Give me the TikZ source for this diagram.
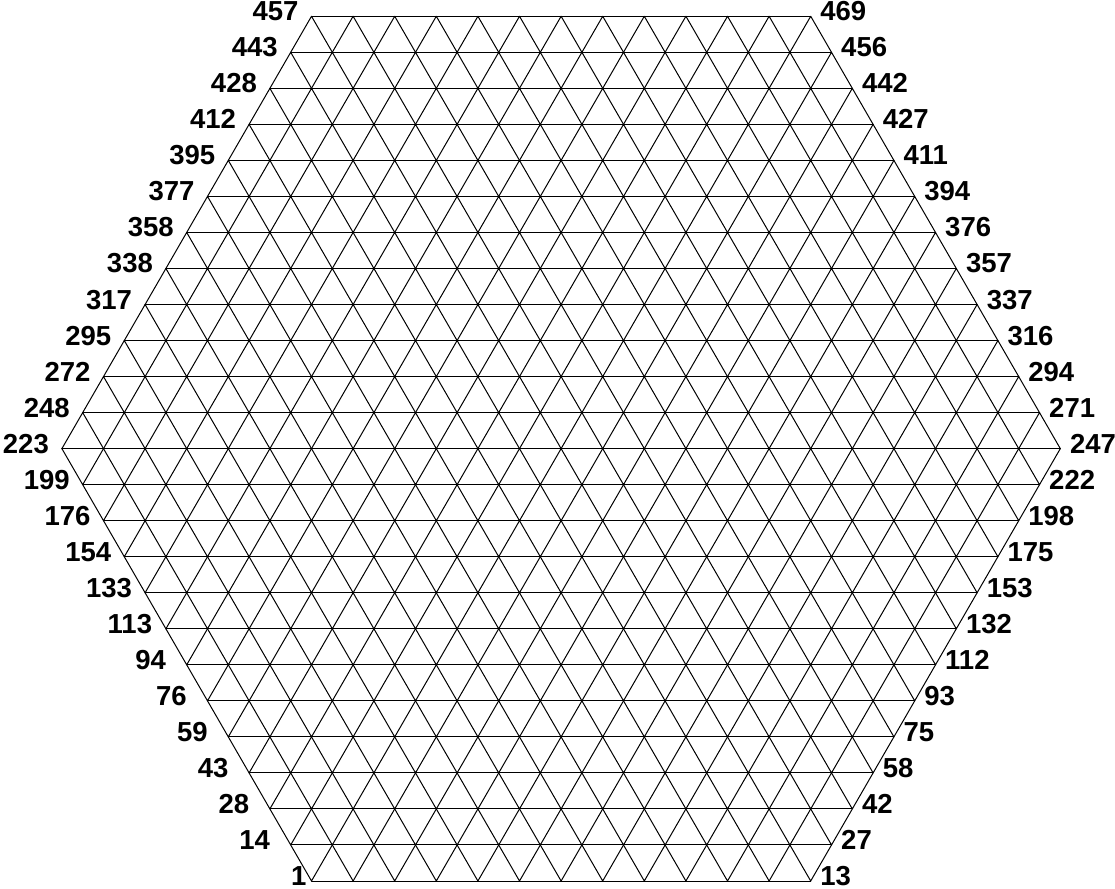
\documentclass[tikz,border=0pt]{standalone}
\usepackage{fontspec}
\setmainfont{Liberation Sans}
\usetikzlibrary{positioning}

\begin{document}
\begin{tikzpicture}[
    x=1pt, y=1pt,
    edge/.style={line width=1pt, line cap=round, line join=round},
    num/.style={font=\fontsize{27.5}{32}\selectfont\bfseries, inner sep=0pt},
    leftnum/.style={num, anchor=base, xshift=-36pt, yshift=-4.5pt},
    cornernum/.style={num, anchor=base east, xshift=-5pt, yshift=-4.5pt},
    rightnum/.style={num, anchor=base west, xshift=9.5pt, yshift=-4.5pt}
]
\useasboundingbox (0,0) rectangle (1115,888);

% grid points, row by row from the bottom
\foreach \r in {0,...,24} {
  \pgfmathtruncatemacro\k{min(\r,24-\r)}
  \pgfmathtruncatemacro\last{12+\k}
  \foreach \c in {0,...,\last}
    \coordinate (v-\r-\c) at ({311.5-20.8*\k+41.6*\c}, {7+36.03*\r});
}

% horizontal lines
\foreach \r in {0,...,24} {
  \pgfmathtruncatemacro\last{12+min(\r,24-\r)}
  \draw[edge] (v-\r-0) -- (v-\r-\last);
}

% slanted lines, lower half
\foreach \r in {0,...,11} {
  \pgfmathtruncatemacro\last{12+\r}
  \pgfmathtruncatemacro\rr{\r+1}
  \foreach \c in {0,...,\last} {
    \pgfmathtruncatemacro\cc{\c+1}
    \draw[edge] (v-\rr-\c) -- (v-\r-\c) -- (v-\rr-\cc);
  }
}

% slanted lines, upper half
\foreach \r in {12,...,23} {
  \pgfmathtruncatemacro\last{36-\r}
  \pgfmathtruncatemacro\rr{\r+1}
  \foreach \c in {1,...,\last} {
    \pgfmathtruncatemacro\cc{\c-1}
    \draw[edge] (v-\r-\c) -- (v-\rr-\cc) -- (v-\r-\cc);
  }
}

% point numbers at both ends of each row
\foreach \r in {0,...,24} {
  \pgfmathtruncatemacro\last{12+min(\r,24-\r)}
  \pgfmathtruncatemacro\first{round(\r<=12 ? 1+13*\r+\r*(\r-1)/2 : 248+25*(\r-13)-(\r-13)*(\r-12)/2)}
  \pgfmathtruncatemacro\final{\first+\last}
  \ifnum\r=0
    \node[cornernum] (a-\r) at (v-\r-0) {\first};
  \else
    \node[leftnum] (a-\r) at (v-\r-0) {\first};
  \fi
  \node[rightnum] (b-\r) at (v-\r-\last) {\final};
}

\end{tikzpicture}
\end{document}
